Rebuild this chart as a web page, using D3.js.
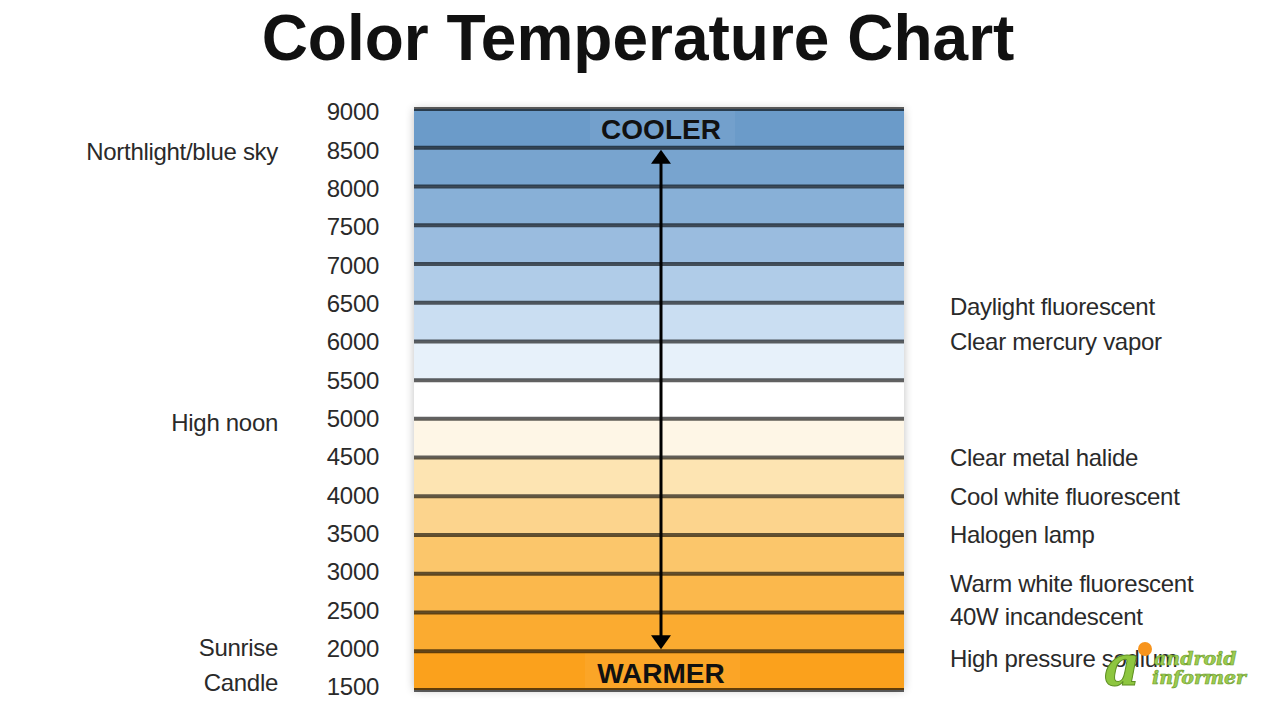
<!DOCTYPE html>
<html>
<head>
<meta charset="utf-8">
<script src="https://cdn.jsdelivr.net/npm/d3@7"></script>
<style>
  body { margin: 0; background: #fff; }
  svg { display: block; }
  .lbl { font-family: "Liberation Sans", Arial, sans-serif; font-size: 24px; fill: #2a2a2a; letter-spacing: -0.3px; }
</style>
</head>
<body>
<div id="chart"></div>
<script>
// chart data
var temps = [9000, 8500, 8000, 7500, 7000, 6500, 6000, 5500, 5000, 4500, 4000, 3500, 3000, 2500, 2000, 1500];
var bandColors = ['#6b9bc9', '#78a4cf', '#88b0d7', '#9abcdf', '#b0cce8', '#cadef2', '#e7f1fa', '#ffffff',
                  '#fef6e6', '#fde4b2', '#fcd48d', '#fbc66b', '#fbb84c', '#fbab30', '#fba11c'];
var leftLabels = ['Northlight/blue sky', 'High noon', 'Sunrise', 'Candle'];
var leftValues = [8450, 4950, 2050, 1600];
var rightLabels = ['Daylight fluorescent', 'Clear mercury vapor', 'Clear metal halide', 'Cool white fluorescent',
                   'Halogen lamp', 'Warm white fluorescent', '40W incandescent', 'High pressure sodium'];
var rightValues = [6450, 6000, 4500, 4000, 3500, 2870, 2450, 1900];

var width = 1280, height = 720;
var x0 = 414, x1 = 904;

var svg = d3.select('#chart').append('svg')
  .attr('width', width)
  .attr('height', height);

var y = d3.scaleLinear()
  .domain([9000, 1500])
  .range([109, 690]);

// the number column sits a touch tighter than the lines
var yLabel = d3.scaleLinear()
  .domain([9000, 1500])
  .range([112, 687]);

// soft shadow behind the scale
var defs = svg.append('defs');
var f = defs.append('filter').attr('id', 'shadow')
  .attr('x', '-10%').attr('y', '-10%').attr('width', '120%').attr('height', '120%');
f.append('feGaussianBlur').attr('in', 'SourceAlpha').attr('stdDeviation', 5);
f.append('feComponentTransfer').append('feFuncA').attr('type', 'linear').attr('slope', 0.25);
var fm = f.append('feMerge');
fm.append('feMergeNode');
fm.append('feMergeNode').attr('in', 'SourceGraphic');

// title
svg.append('text')
  .attr('x', 638)
  .attr('y', 60)
  .attr('text-anchor', 'middle')
  .style('font-family', '"Liberation Sans", Arial, sans-serif')
  .style('font-weight', 'bold')
  .style('font-size', '64px')
  .style('fill', '#111')
  .text('Color Temperature Chart');

// background box with shadow
svg.append('rect')
  .attr('x', x0)
  .attr('y', y(9000))
  .attr('width', x1 - x0)
  .attr('height', y(1500) - y(9000))
  .attr('fill', '#fff')
  .attr('filter', 'url(#shadow)');

// colour bands
var bands = d3.range(bandColors.length).map(function(i) {
  return {hi: temps[i], lo: temps[i + 1], color: bandColors[i]};
});
svg.append('g').selectAll('rect')
  .data(bands)
  .enter().append('rect')
  .attr('x', x0)
  .attr('y', function(d) { return y(d.hi); })
  .attr('width', x1 - x0)
  .attr('height', function(d) { return y(d.lo) - y(d.hi); })
  .attr('fill', function(d) { return d.color; });

// lighter patches behind COOLER / WARMER
svg.append('rect')
  .attr('x', 590).attr('y', y(9000) + 2)
  .attr('width', 145).attr('height', y(8500) - y(9000) - 4)
  .attr('fill', '#fff').attr('opacity', 0.06);
svg.append('rect')
  .attr('x', 585).attr('y', y(2000) + 2)
  .attr('width', 155).attr('height', y(1500) - y(2000) - 4)
  .attr('fill', '#fff').attr('opacity', 0.05);

// grid lines
svg.append('g').selectAll('line')
  .data(temps)
  .enter().append('line')
  .attr('x1', x0)
  .attr('x2', x1)
  .attr('y1', function(d) { return y(d); })
  .attr('y2', function(d) { return y(d); })
  .attr('stroke', '#000')
  .attr('stroke-opacity', 0.62)
  .attr('stroke-width', 4);

// tick labels via axis
var axis = svg.append('g')
  .attr('transform', 'translate(379,0)')
  .call(d3.axisLeft(yLabel).tickValues(temps).tickSize(0).tickPadding(0).tickFormat(d3.format('d')));
axis.select('.domain').remove();
axis.selectAll('text')
  .attr('class', 'lbl')
  .attr('fill', null);

// side labels
svg.append('g').selectAll('text')
  .data(leftLabels)
  .enter().append('text')
  .attr('class', 'lbl')
  .attr('x', 278)
  .attr('y', function(d, i) { return y(leftValues[i]); })
  .attr('dy', '0.35em')
  .attr('text-anchor', 'end')
  .text(function(d) { return d; });

svg.append('g').selectAll('text')
  .data(rightLabels)
  .enter().append('text')
  .attr('class', 'lbl')
  .attr('x', 950)
  .attr('y', function(d, i) { return y(rightValues[i]); })
  .attr('dy', '0.35em')
  .text(function(d) { return d; });

// double arrow
var ax = 661;
svg.append('line')
  .attr('x1', ax).attr('x2', ax)
  .attr('y1', y(8500) + 10).attr('y2', y(2000) - 10)
  .attr('stroke', '#000').attr('stroke-width', 3);
svg.append('path')
  .attr('d', 'M' + ax + ',' + (y(8500) + 2) + 'l-10,14h20z')
  .attr('fill', '#000');
svg.append('path')
  .attr('d', 'M' + ax + ',' + (y(2000) - 2) + 'l-10,-14h20z')
  .attr('fill', '#000');

// end words
svg.append('text')
  .attr('x', ax).attr('y', (y(9000) + y(8500)) / 2 + 1)
  .attr('dy', '0.35em')
  .attr('text-anchor', 'middle')
  .style('font-family', '"Liberation Sans", Arial, sans-serif')
  .style('font-weight', 'bold').style('font-size', '28px').style('fill', '#111')
  .text('COOLER');
svg.append('text')
  .attr('x', ax).attr('y', (y(2000) + y(1500)) / 2 + 3)
  .attr('dy', '0.35em')
  .attr('text-anchor', 'middle')
  .style('font-family', '"Liberation Sans", Arial, sans-serif')
  .style('font-weight', 'bold').style('font-size', '28px').style('fill', '#111')
  .text('WARMER');

// watermark
var wm = svg.append('g');
wm.append('text')
  .attr('x', 1104).attr('y', 685)
  .style('font-family', '"DejaVu Serif", serif')
  .style('font-style', 'italic').style('font-weight', 'bold').style('font-size', '56px')
  .style('fill', '#8dc63f').style('stroke', '#5e8f22').style('stroke-width', 1)
  .text('a');
wm.append('circle')
  .attr('cx', 1145).attr('cy', 649).attr('r', 7)
  .attr('fill', '#f7941d');
wm.append('text')
  .attr('x', 1154).attr('y', 665)
  .style('font-family', '"DejaVu Serif", serif')
  .style('font-style', 'italic').style('font-weight', 'bold').style('font-size', '19px')
  .style('fill', '#9ccc50').style('stroke', '#6a9a2a').style('stroke-width', 0.6)
  .text('android');
wm.append('text')
  .attr('x', 1152).attr('y', 684)
  .style('font-family', '"DejaVu Serif", serif')
  .style('font-style', 'italic').style('font-weight', 'bold').style('font-size', '19px')
  .style('fill', '#9ccc50').style('stroke', '#6a9a2a').style('stroke-width', 0.6)
  .text('informer');
</script>
</body>
</html>
